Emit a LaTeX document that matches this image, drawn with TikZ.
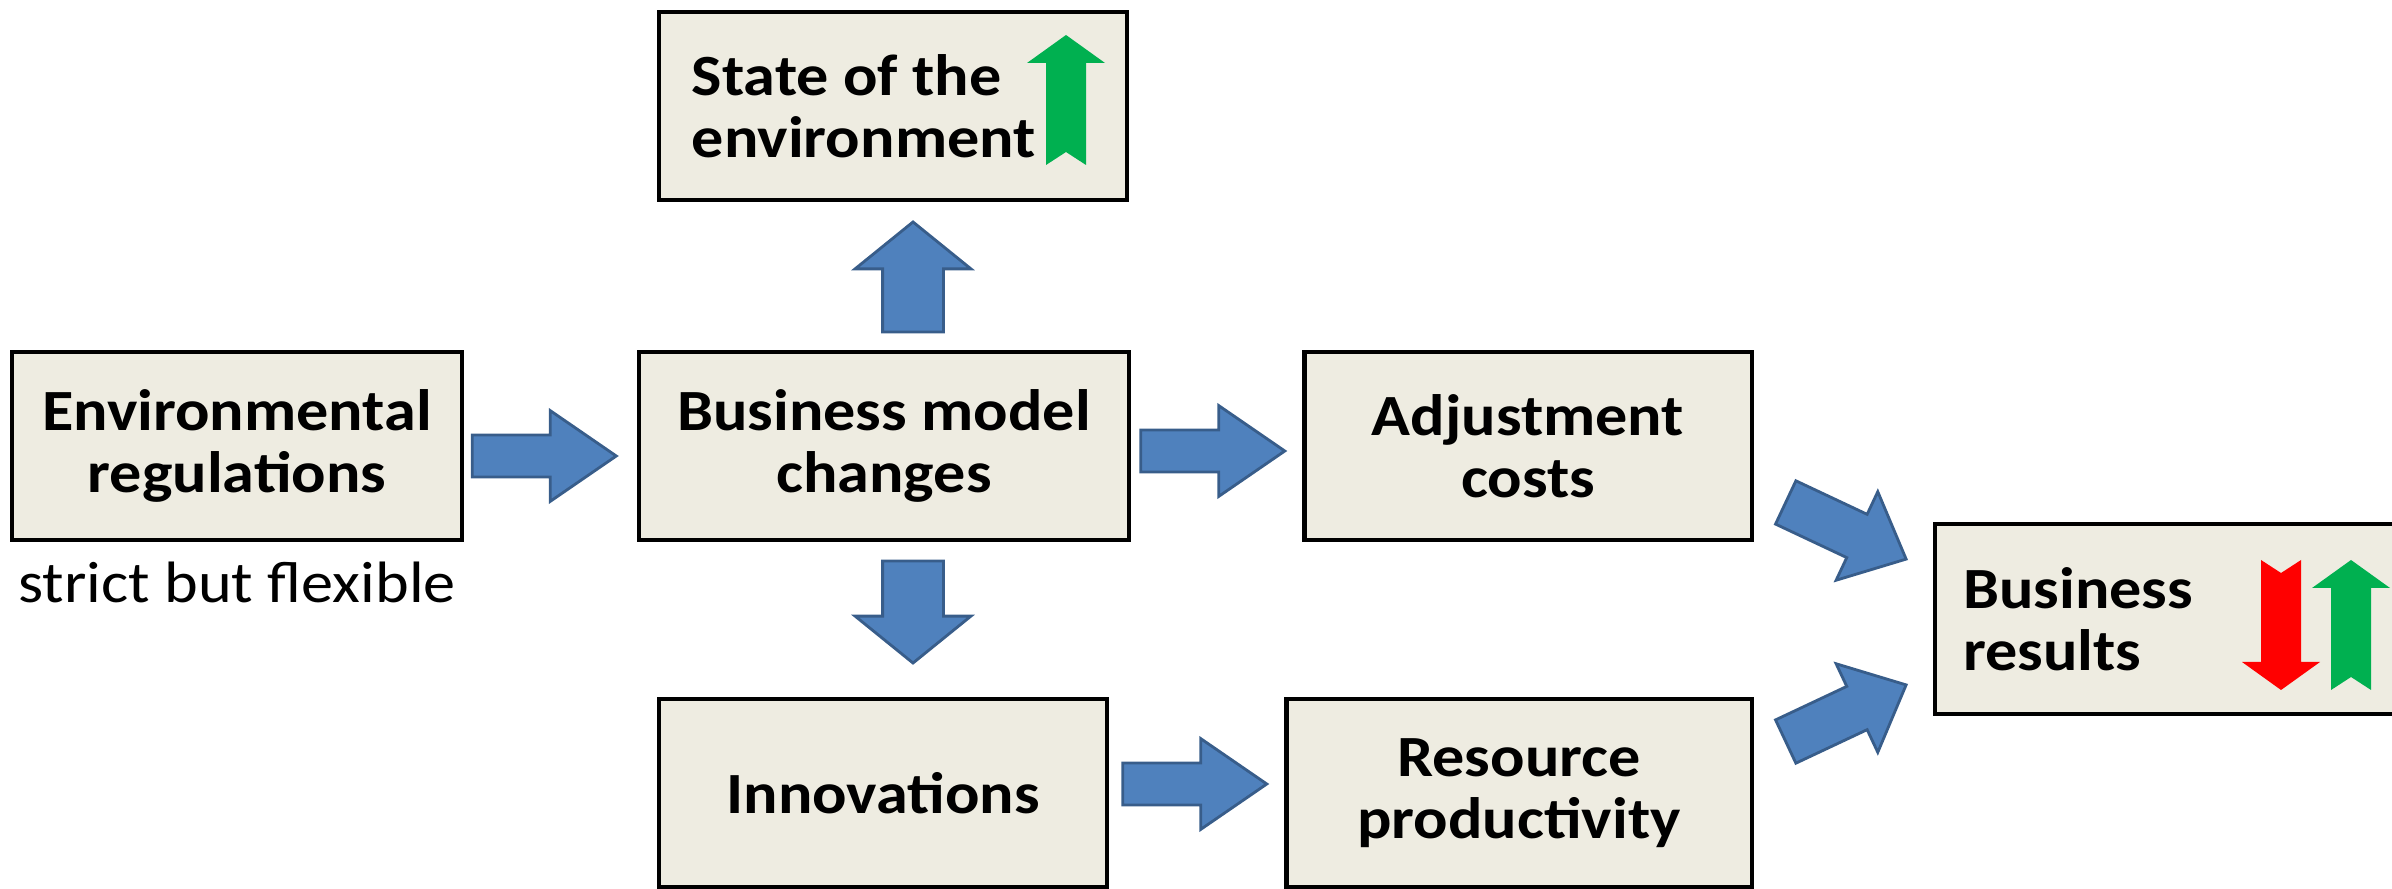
\documentclass[tikz,border=0pt]{standalone}
\usepackage{fontspec}
\setmainfont{Carlito}[FakeStretch=1.1]
\usetikzlibrary{shapes.arrows, calc}
\definecolor{boxfill}{HTML}{EEECE1}
\definecolor{arrowblue}{HTML}{4F81BD}
\definecolor{arrowline}{HTML}{385D8A}
\definecolor{upgreen}{HTML}{00B050}
\definecolor{downred}{HTML}{FF0000}
\tikzset{
    box/.style={draw=black, line width=1.2pt, fill=boxfill, align=center, minimum height=1.88cm,
        font=\bfseries\fontsize{16.6}{17.5}\selectfont},  % beige boxes
    bigarrow/.style={single arrow, fill=arrowblue, draw=arrowline, line width=0.8pt, anchor=tip},  % blue block arrows
    flatarrow/.style={bigarrow, minimum height=1.44cm, inner sep=0.195cm,
        single arrow head extend=0.245cm, single arrow tip angle=69},
    tallarrow/.style={bigarrow, inner sep=0.29cm,
        single arrow head extend=0.275cm, single arrow tip angle=102},
    slantarrow/.style={bigarrow, minimum height=1.33cm, inner sep=0.225cm,
        single arrow head extend=0.25cm, single arrow tip angle=84},
    pics/trendarrow/.style={code={
        \fill (-20,65) -- (-20,-37) -- (-39,-37) -- (0,-65) -- (39,-37) -- (20,-37) -- (20,65) -- (0,52) -- cycle;
    }}
}
\begin{document}
\begin{tikzpicture}[x=0.01cm, y=-0.01cm]  % pixel grid, y downwards
    \useasboundingbox (0,0) rectangle (2392,889);
    \clip (0,0) rectangle (2392,889);

    % boxes
    \node[box, minimum width=4.68cm, align=flush left, text width=4.02cm, inner xsep=0.33cm] (state) at (893,106) {State of the\\environment};
    \node[box, minimum width=4.49cm] (env) at (237,446) {Environmental\\regulations};
    \node[box, minimum width=4.90cm] (bmc) at (884,446) {Business model\\changes};
    \node[box, minimum width=4.47cm] (adj) at (1528,446) {Adjustment\\costs};
    \node[box, minimum width=4.47cm] (innov) at (883,793) {Innovations};
    \node[box, minimum width=4.65cm] (res) at (1519,793) {Resource\\productivity};
    \node[box, anchor=west, align=flush left, text width=4.2cm, inner xsep=0.28cm, minimum height=1.90cm] (results) at (1933,619) {Business\\results};

    \node[font=\fontsize{16.6}{17.5}\selectfont] (flex) at (237,582) {strict but flexible};

    % block arrows between the boxes
    \node[flatarrow] (a1) at ($(bmc.west)+(-18,10)$) {};
    \node[flatarrow] (a2) at ($(adj.west)+(-15,5)$) {};
    \node[flatarrow] (a5) at ($(res.west)+(-15,-9)$) {};
    \node[tallarrow, minimum height=1.10cm, rotate=90] (a3) at ($(state.south)+(20,18)$) {};
    \node[tallarrow, minimum height=1.02cm, rotate=-90] (a4) at ($(innov.north)+(30,-32)$) {};
    \node[slantarrow, rotate=-25.2] (a6) at ($(results.west)+(-25,-59)$) {};
    \node[slantarrow, rotate=25.2] (a7) at ($(results.west)+(-25,65)$) {};

    % trend arrows
    \pic[upgreen] at (1066,100) {trendarrow};
    \pic[downred, rotate=180] at (2281,625) {trendarrow};
    \pic[upgreen] at (2351,625) {trendarrow};
\end{tikzpicture}
\end{document}
